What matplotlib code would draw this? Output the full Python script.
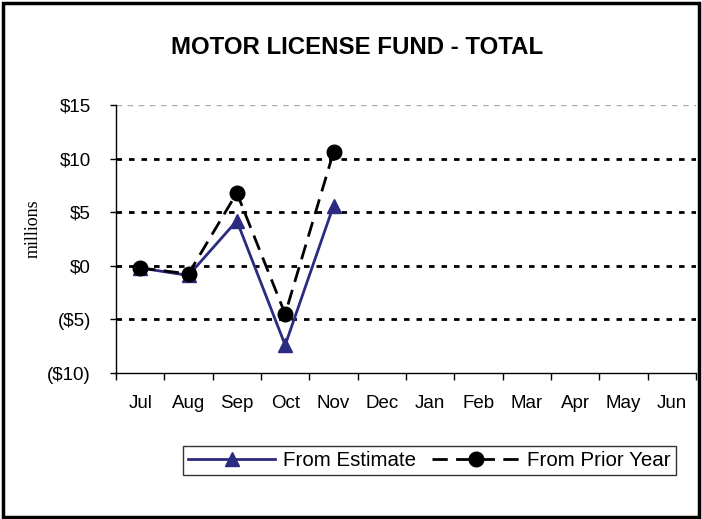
import matplotlib
matplotlib.use("Agg")
import matplotlib.pyplot as plt
from matplotlib.patches import Rectangle

months = ["Jul", "Aug", "Sep", "Oct", "Nov", "Dec", "Jan", "Feb", "Mar", "Apr", "May", "Jun"]
from_estimate = [-0.2, -0.9, 4.2, -7.4, 5.6]
from_prior_year = [-0.2, -0.75, 6.8, -4.5, 10.6]
y_ticks = [-10, -5, 0, 5, 10, 15]
y_labels = ["($10)", "($5)", "$0", "$5", "$10", "$15"]

plt.rcParams['font.family'] = ['Liberation Sans', 'DejaVu Sans']

fig = plt.figure(figsize=(7.02, 5.19), dpi=100)
ax = fig.add_axes([116/702, 1-373/519, 580/702, 268/519])

navy = "#2B2B80"
x_est = list(range(len(from_estimate)))
x_pri = list(range(len(from_prior_year)))
ax.plot(x_est, from_estimate, color=navy, lw=2, marker='^', markersize=10.5,
        markerfacecolor=navy, markeredgecolor=navy, zorder=3, label="From Estimate")
ax.plot(x_pri, from_prior_year, color='black', lw=2, dashes=(5.5, 3), marker='o', markersize=10.5,
        markerfacecolor='black', markeredgecolor='black', zorder=4, label="From Prior Year")

ax.set_xlim(-0.5, 11.5)
ax.set_ylim(-10, 15)
ax.set_yticks(y_ticks)
ax.set_yticklabels(y_labels, fontsize=13.5)
ax.set_xticks([i - 0.5 for i in range(13)])
ax.set_xticklabels([])
ax.set_xticks(range(12), minor=True)
ax.set_xticklabels(months, minor=True, fontsize=13.5)
ax.tick_params(axis='x', which='minor', length=0, pad=16)
ax.tick_params(axis='x', which='major', length=5, width=1, direction='out')
ax.tick_params(axis='y', length=4, width=1, direction='out', pad=14)

for s in ['top', 'right']:
    ax.spines[s].set_visible(False)
for s in ['left', 'bottom']:
    ax.spines[s].set_linewidth(1)
    ax.spines[s].set_color('black')

for v in y_ticks[1:]:
    if v == 15:
        ax.axhline(v, color='#AAAAAA', lw=1, dashes=(4, 4), zorder=1)
    else:
        ax.axhline(v, color='black', lw=2, dashes=(2, 2.5), zorder=1)

fig.text(33/702, 1-229/519, "millions", rotation=90, ha='center', va='center',
         family=['Liberation Serif'], fontsize=13)

fig.text(0.509, 1-48/519, "MOTOR LICENSE FUND - TOTAL", ha='center', va='center',
         fontsize=17.3, fontweight='bold')

leg = fig.legend(handles=ax.get_lines()[:2], loc='center',
                 bbox_to_anchor=((183+676)/2/702, 1-460.5/519), ncol=2,
                 fontsize=14.8, frameon=True, fancybox=False, edgecolor='black',
                 handlelength=4.2, columnspacing=0.8, handletextpad=0.4,
                 borderpad=0.25, borderaxespad=0)
leg.get_frame().set_linewidth(1)

fig.patches.append(Rectangle((0.004, 0.004), 0.992, 0.99, transform=fig.transFigure,
                             fill=False, edgecolor='black', lw=2.5))

fig.savefig("out.png", dpi=100)
